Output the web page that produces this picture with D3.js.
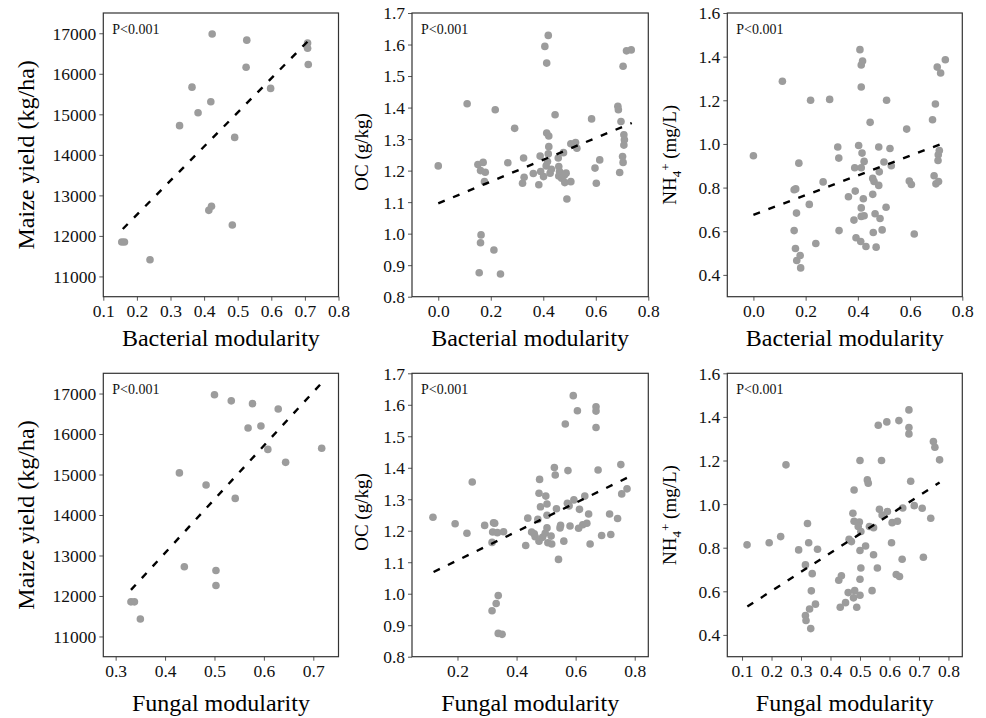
<!DOCTYPE html>
<html lang="en">
<head>
<meta charset="UTF-8">
<title>Modularity vs yield and soil properties</title>
<style>
  body { margin: 0; background: #fff; }
  svg { display: block; font-family: "Liberation Serif", "Times New Roman", serif; }
  .tick text { font-size: 17.5px; fill: #111; font-family: "Liberation Serif", "Times New Roman", serif; }
  .tick line { stroke: #555; }
  .frame { fill: none; stroke: #333; stroke-width: 1.2px; }
  .dot { fill: #9c9c9c; }
  .trend { fill: none; stroke: #000; stroke-width: 2.4px; stroke-dasharray: 7 9; }
  .ptext { font-size: 14px; fill: #111; }
</style>
</head>
<body>
<svg width="986" height="718"></svg>
<script src="https://d3js.org/d3.v7.min.js"></script>
<script>
// --- data ---
const bactYieldX = [0.155,0.163,0.239,0.327,0.364,0.382,0.420,0.424,0.414,0.422,0.484,0.491,0.527,0.525,0.598,0.708,0.708,0.710];
const bactYieldY = [11850,11850,11410,14720,15670,15040,15310,16980,12630,12730,12270,14430,16830,16160,15640,16760,16630,16230];

const bactOcX = [0.000,0.110,0.151,0.171,0.161,0.179,0.176,0.163,0.161,0.156,0.212,0.237,0.217,0.265,0.291,0.325,0.327,0.321,0.362,0.388,
  0.383,0.401,0.390,0.406,0.419,0.413,0.411,0.416,0.413,0.421,0.421,0.419,0.426,0.431,0.445,0.457,0.459,0.462,0.459,0.470,
  0.480,0.477,0.482,0.490,0.487,0.505,0.505,0.523,0.528,0.584,0.597,0.602,0.615,0.684,0.686,0.696,0.691,0.702,0.704,0.707,
  0.709,0.707,0.704,0.717,0.735];
const bactOcY = [1.215,1.412,1.219,1.226,1.200,1.195,1.165,0.996,0.971,0.876,0.948,0.872,1.393,1.225,1.334,1.240,1.179,1.160,1.191,1.246,
  1.155,1.181,1.197,1.594,1.629,1.541,1.215,1.229,1.319,1.310,1.276,1.253,1.192,1.204,1.377,1.240,1.213,1.197,1.183,1.176,
  1.185,1.257,1.162,1.110,1.192,1.165,1.285,1.289,1.271,1.364,1.208,1.160,1.234,1.404,1.393,1.356,1.194,1.245,1.226,1.314,
  1.298,1.281,1.531,1.580,1.583];

const bactNhX = [0.000,0.111,0.156,0.162,0.174,0.165,0.156,0.161,0.166,0.179,0.181,0.214,0.219,0.239,0.267,0.292,0.323,0.327,0.328,0.364,
  0.385,0.390,0.388,0.393,0.403,0.408,0.413,0.413,0.418,0.416,0.413,0.424,0.413,0.421,0.413,0.424,0.411,0.431,0.447,0.457,
  0.457,0.462,0.459,0.466,0.470,0.480,0.482,0.480,0.485,0.493,0.500,0.508,0.510,0.523,0.528,0.587,0.597,0.605,0.616,0.686,
  0.692,0.697,0.704,0.717,0.708,0.712,0.707,0.699,0.709,0.735];
const bactNhY = [0.946,1.287,0.790,0.794,0.912,0.683,0.603,0.521,0.466,0.489,0.432,0.723,1.200,0.544,0.826,1.204,0.986,0.935,0.603,0.758,
  0.651,0.784,0.891,0.570,0.993,1.432,1.261,1.362,1.380,0.958,0.891,0.920,0.707,0.749,0.668,0.671,0.553,0.530,1.099,0.842,
  0.769,0.828,0.594,0.680,0.527,0.986,0.872,0.810,0.658,0.606,0.917,0.710,1.200,0.979,0.900,1.068,0.830,0.814,0.587,1.111,
  0.854,1.183,1.352,1.325,0.950,0.970,0.924,0.817,0.828,1.386];

const fungYieldX = [0.331,0.338,0.350,0.429,0.439,0.483,0.500,0.503,0.503,0.534,0.542,0.568,0.577,0.594,0.608,0.629,0.644,0.717];
const fungYieldY = [11855,11855,11430,15040,12720,14740,16970,12630,12260,16820,14410,16150,16750,16200,15620,16620,15300,15650];

const fungOcX = [0.117,0.192,0.232,0.250,0.292,0.317,0.322,0.326,0.319,0.317,0.331,0.338,0.335,0.356,0.338,0.351,0.431,0.438,0.451,0.460,
  0.463,0.472,0.476,0.478,0.481,0.476,0.488,0.497,0.499,0.503,0.503,0.503,0.506,0.517,0.519,0.528,0.531,0.535,0.542,0.547,
  0.549,0.560,0.565,0.572,0.574,0.578,0.581,0.592,0.594,0.610,0.613,0.606,0.631,0.624,0.638,0.644,0.649,0.669,0.669,0.669,
  0.676,0.688,0.715,0.719,0.742,0.753,0.756,0.774];
const fungOcY = [1.243,1.222,1.192,1.355,1.217,0.946,1.225,1.224,1.196,1.163,0.969,0.994,1.194,1.197,0.874,0.871,1.153,1.240,1.196,1.190,
  1.181,1.236,1.319,1.363,1.276,1.167,1.179,1.192,1.310,1.285,1.249,1.209,1.162,1.183,1.158,1.401,1.377,1.270,1.109,1.209,
  1.217,1.167,1.539,1.287,1.391,1.279,1.215,1.629,1.298,1.208,1.268,1.581,1.310,1.219,1.224,1.253,1.158,1.594,1.580,1.528,
  1.393,1.185,1.253,1.188,1.239,1.410,1.317,1.333];

const fungNhX = [0.117,0.192,0.231,0.249,0.292,0.322,0.326,0.315,0.338,0.335,0.329,0.315,0.317,0.333,0.349,0.356,0.428,0.437,0.433,0.451,
  0.460,0.463,0.471,0.476,0.480,0.480,0.478,0.482,0.489,0.498,0.500,0.494,0.503,0.500,0.503,0.500,0.500,0.519,0.525,0.528,
  0.532,0.541,0.546,0.546,0.559,0.562,0.566,0.573,0.575,0.591,0.593,0.607,0.609,0.627,0.623,0.634,0.632,0.643,0.645,0.666,
  0.666,0.666,0.672,0.684,0.711,0.715,0.740,0.749,0.754,0.770];
const fungNhY = [0.813,0.823,0.851,1.180,0.790,0.911,0.823,0.721,0.681,0.602,0.519,0.489,0.466,0.429,0.541,0.793,0.651,0.671,0.527,0.548,
  0.594,0.839,0.828,0.958,1.065,0.921,0.570,0.603,0.527,0.918,1.200,0.897,0.874,0.787,0.707,0.655,0.582,0.808,1.111,1.096,
  0.897,0.603,0.768,0.892,0.707,1.362,0.976,1.200,0.950,1.377,0.966,0.823,0.915,0.921,0.677,0.668,1.383,0.747,0.982,1.432,
  1.351,1.322,1.105,0.993,0.981,0.756,0.935,1.287,1.261,1.203];

// fitted lines: [x0, y0, x1, y1]
const trendBactYield = [0.158, 12170, 0.708, 16795];
const trendBactOc = [0.000, 1.096, 0.737, 1.351];
const trendBactNh = [0.000, 0.675, 0.735, 1.007];
const trendFungYield = [0.331, 12150, 0.716, 17250];
const trendFungOc = [0.119, 1.069, 0.774, 1.368];
const trendFungNh = [0.118, 0.530, 0.770, 1.099];

// tick values
const yieldTicks = [11000, 12000, 13000, 14000, 15000, 16000, 17000];
const ocTicks = [0.8, 0.9, 1.0, 1.1, 1.2, 1.3, 1.4, 1.5, 1.6, 1.7];
const nhTicks = [0.4, 0.6, 0.8, 1.0, 1.2, 1.4, 1.6];
const bactTicksA = [0.1, 0.2, 0.3, 0.4, 0.5, 0.6, 0.7, 0.8];
const bactTicksB = [0.0, 0.2, 0.4, 0.6, 0.8];
const fungTicksA = [0.3, 0.4, 0.5, 0.6, 0.7];
const fungTicksB = [0.2, 0.4, 0.6, 0.8];
const fungTicksC = [0.1, 0.2, 0.3, 0.4, 0.5, 0.6, 0.7, 0.8];

const pLabel = "P<0.001";

// --- layout ---
const svg = d3.select("svg");
const cols = [[103.3, 338.5], [412, 648.3], [727.3, 962.3]];
const rows = [[13, 296.7], [373.3, 656.7]];
const serif = "Liberation Serif, Times New Roman, serif";

const panels = [
  { c: 0, r: 0, xs: bactYieldX, ys: bactYieldY, xd: [0.1, 0.8], yd: [10500, 17500], xt: bactTicksA, yt: yieldTicks, yf: "d", trend: trendBactYield, xl: "Bacterial modularity", yl: "yield" },
  { c: 1, r: 0, xs: bactOcX, ys: bactOcY, xd: [-0.1, 0.8], yd: [0.8, 1.7], xt: bactTicksB, yt: ocTicks, yf: ".1f", trend: trendBactOc, xl: "Bacterial modularity", yl: "oc" },
  { c: 2, r: 0, xs: bactNhX, ys: bactNhY, xd: [-0.1, 0.8], yd: [0.3, 1.6], xt: bactTicksB, yt: nhTicks, yf: ".1f", trend: trendBactNh, xl: "Bacterial modularity", yl: "nh" },
  { c: 0, r: 1, xs: fungYieldX, ys: fungYieldY, xd: [0.275, 0.751], yd: [10500, 17500], xt: fungTicksA, yt: yieldTicks, yf: "d", trend: trendFungYield, xl: "Fungal modularity", yl: "yield" },
  { c: 1, r: 1, xs: fungOcX, ys: fungOcY, xd: [0.046, 0.846], yd: [0.8, 1.7], xt: fungTicksB, yt: ocTicks, yf: ".1f", trend: trendFungOc, xl: "Fungal modularity", yl: "oc" },
  { c: 2, r: 1, xs: fungNhX, ys: fungNhY, xd: [0.05, 0.847], yd: [0.3, 1.6], xt: fungTicksC, yt: nhTicks, yf: ".1f", trend: trendFungNh, xl: "Fungal modularity", yl: "nh" }
];

const xLabelBase = [346, 711];

panels.forEach(p => {
  const [x0, x1] = cols[p.c];
  const [y0, y1] = rows[p.r];
  const x = d3.scaleLinear().domain(p.xd).range([x0, x1]);
  const y = d3.scaleLinear().domain(p.yd).range([y1, y0]);
  const g = svg.append("g");

  g.append("g")
    .attr("transform", `translate(0,${y1})`)
    .call(d3.axisBottom(x).tickValues(p.xt).tickFormat(d3.format(".1f")).tickSize(4).tickPadding(4))
    .attr("font-family", serif)
    .call(a => a.select(".domain").remove());

  g.append("g")
    .attr("transform", `translate(${x0},0)`)
    .call(d3.axisLeft(y).tickValues(p.yt).tickFormat(d3.format(p.yf)).tickSize(4).tickPadding(3))
    .attr("font-family", serif)
    .call(a => a.select(".domain").remove())
    .selectAll(".tick text").attr("dy", "0.34em");

  g.append("rect").attr("class", "frame")
    .attr("x", x0).attr("y", y0).attr("width", x1 - x0).attr("height", y1 - y0);

  g.append("g").selectAll("circle")
    .data(p.xs.map((v, i) => [v, p.ys[i]]))
    .join("circle")
    .attr("class", "dot")
    .attr("cx", d => x(d[0]))
    .attr("cy", d => y(d[1]))
    .attr("r", 3.8);

  g.append("line").attr("class", "trend")
    .attr("x1", x(p.trend[0])).attr("y1", y(p.trend[1]))
    .attr("x2", x(p.trend[2])).attr("y2", y(p.trend[3]));

  g.append("text").attr("class", "ptext")
    .attr("x", x0 + 9).attr("y", y0 + 21)
    .text(pLabel);

  // x label
  g.append("text")
    .attr("x", (x0 + x1) / 2).attr("y", xLabelBase[p.r])
    .attr("text-anchor", "middle")
    .style("font-size", "24px")
    .text(p.xl);

  // y label
  const cy = (y0 + y1) / 2;
  if (p.yl === "yield") {
    g.append("text")
      .attr("transform", `translate(34,${cy}) rotate(-90)`)
      .attr("text-anchor", "middle")
      .style("font-size", "24px")
      .text("Maize yield (kg/ha)");
  } else if (p.yl === "oc") {
    g.append("text")
      .attr("transform", `translate(368,${cy - 3}) rotate(-90)`)
      .attr("text-anchor", "middle")
      .style("font-size", "19px")
      .text("OC (g/kg)");
  } else {
    const t = g.append("text")
      .attr("transform", `translate(676,${cy}) rotate(-90)`)
      .attr("text-anchor", "middle")
      .style("font-size", "19px");
    t.append("tspan").text("NH");
    t.append("tspan").attr("dy", 5).style("font-size", "13px").text("4");
    t.append("tspan").attr("dy", -11).style("font-size", "13px").text("+");
    t.append("tspan").attr("dy", 6).text(" (mg/L)");
  }
});
</script>
</body>
</html>
